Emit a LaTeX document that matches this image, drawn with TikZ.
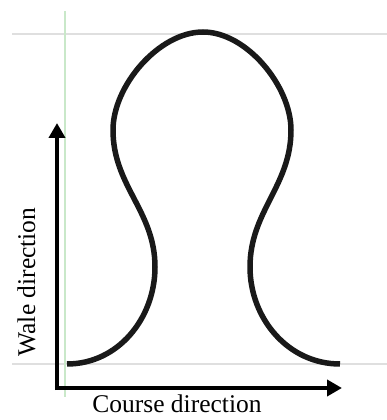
\documentclass[tikz,border=0pt]{standalone}
\usepackage{fontspec}
\setmainfont{Liberation Serif}
\usetikzlibrary{arrows.meta,positioning}

\begin{document}
\begin{tikzpicture}[
    x=1pt, y=1pt,
    guide/.style={line width=1.2pt, draw=gray!25},
    guidegreen/.style={line width=1.2pt, draw=green!40!gray!30},
    yarn/.style={line width=5.5pt, draw=black!90, line cap=butt},
    axis/.style={line width=4.5pt, -{Triangle[length=15pt, width=16pt]}},
    label/.style={font=\fontsize{25.5}{30}\selectfont, inner sep=0pt, anchor=base}
]
    \useasboundingbox (0,0) rectangle (387,420);

    % Guide lines
    \coordinate (topl) at (12,386);
    \coordinate (topr) at (387,386);
    \coordinate (botl) at (12,56);
    \coordinate (botr) at (387,56);
    \coordinate (vtop) at (65,409);
    \coordinate (vbot) at (65,23);
    \draw[guide] (topl) -- (topr);
    \draw[guide] (botl) -- (botr);
    \draw[guidegreen] (vtop) -- (vbot);

    % Loop
    \coordinate (footl) at (67,56);
    \coordinate (waistl) at (155,153);
    \coordinate (bulgel) at (113,290);
    \coordinate (crown) at (203,388);
    \coordinate (bulger) at (291,290);
    \coordinate (waistr) at (250,153);
    \coordinate (footr) at (340,56);
    \draw[yarn] (footl) to[out=0, in=-90] (waistl)
        to[out=90, in=-90] (bulgel)
        to[out=90, in=180, looseness=0.85] (crown)
        to[out=0, in=90, looseness=0.85] (bulger)
        to[out=-90, in=90] (waistr)
        to[out=-90, in=180] (footr);

    % Axes
    \coordinate (origin) at (57,32);
    \coordinate (wale) at (57,297);
    \coordinate (course) at (342,32);
    \draw[axis] ([yshift=-2.25pt]origin) -- (wale);
    \draw[axis] ([xshift=-2.25pt]origin) -- (course);

    % Labels
    \node[label, rotate=90] (walelabel) at (35,138) {Wale direction};
    \node[label] (courselabel) at (177,7) {Course direction};
\end{tikzpicture}
\end{document}
